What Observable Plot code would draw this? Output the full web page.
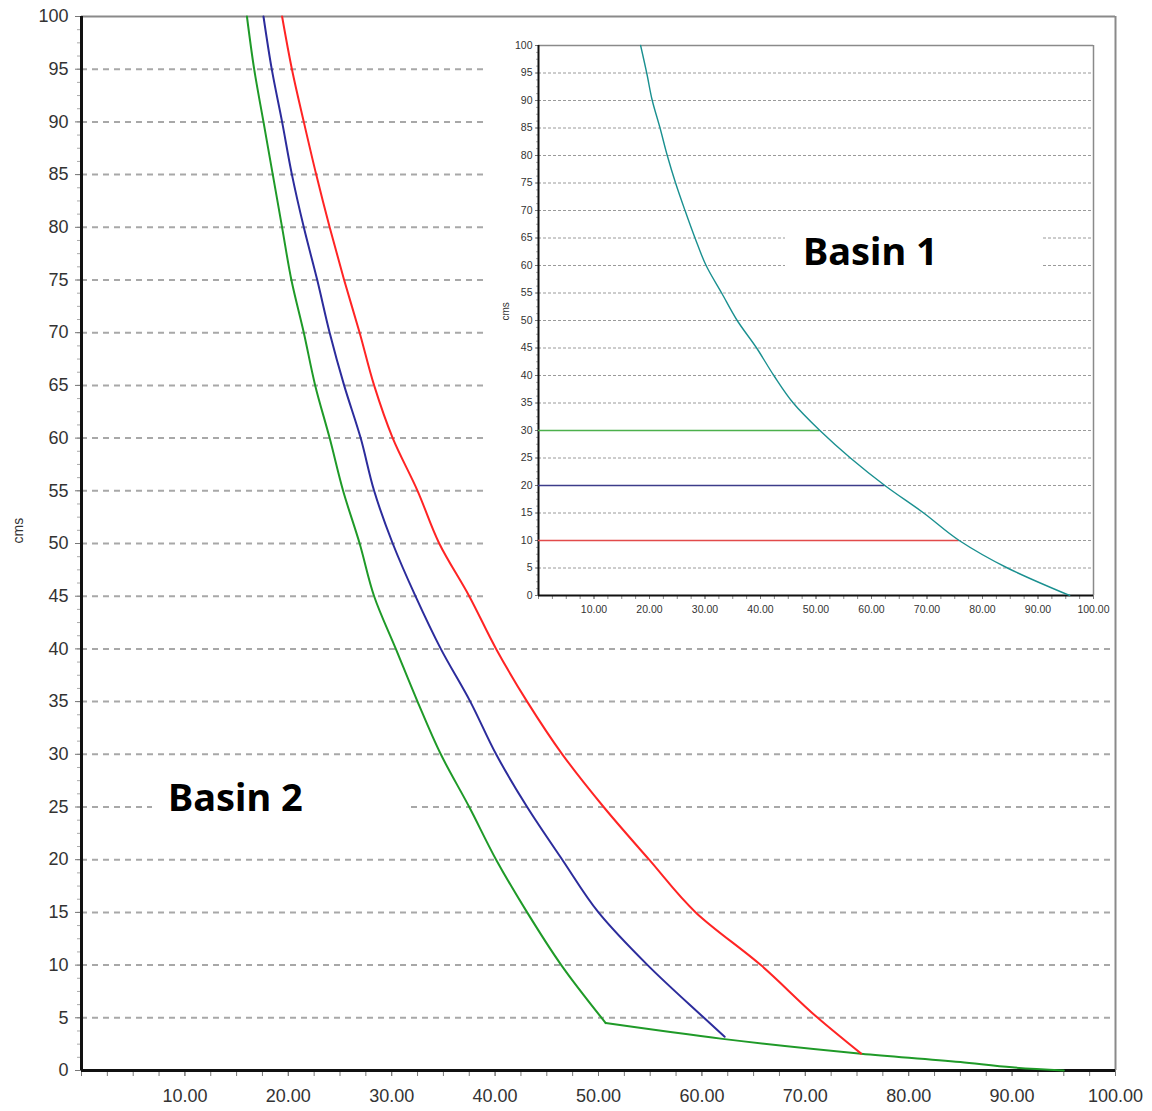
<!DOCTYPE html>
<html>
<head>
<meta charset="utf-8">
<script src="https://cdn.jsdelivr.net/npm/d3@7"></script>
<script src="https://cdn.jsdelivr.net/npm/@observablehq/plot@0.6"></script>
<style>
  body { margin: 0; background: #fff; }
  #wrap { position: relative; width: 1152px; height: 1111px; overflow: hidden; background: #fff; }
  #inset { position: absolute; left: 487px; top: 18px; background: #fff; }
  .box { position: absolute; background: #fff; }
  .lbl { position: absolute; font-family: "Noto Sans", "Open Sans", sans-serif; font-weight: bold; font-size: 38px; line-height: 38px; color: #000; white-space: nowrap; }
</style>
</head>
<body>
<div id="wrap"></div>
<script>
// ---------- tick values ----------
const yMajorTicks = [0, 5, 10, 15, 20, 25, 30, 35, 40, 45, 50, 55, 60, 65, 70, 75, 80, 85, 90, 95, 100];
const gridLevels = [5, 10, 15, 20, 25, 30, 35, 40, 45, 50, 55, 60, 65, 70, 75, 80, 85, 90, 95];
const xMajorTicks = [10, 20, 30, 40, 50, 60, 70, 80, 90, 100];
const xMinorTicks = d3.range(0, 100.01, 2.5);
const yMinorTicks = d3.range(0, 100.01, 1.25);

// ---------- Basin 2 (main chart) : [flow, cms] ----------
const basin2Green = [
  [16.0, 100], [16.7, 95], [17.6, 90], [18.5, 85], [19.4, 80], [20.3, 75], [21.5, 70],
  [22.6, 65], [24.0, 60], [25.3, 55], [26.9, 50], [28.3, 45], [30.4, 40], [32.5, 35],
  [34.75, 30], [37.5, 25], [40.1, 20], [43.1, 15], [46.4, 10], [50.7, 4.5], [62.0, 3.0],
  [75.4, 1.6], [85.0, 0.8], [90.0, 0.3], [95.0, 0]
];
const basin2Blue = [
  [17.6, 100], [18.4, 95], [19.4, 90], [20.35, 85], [21.5, 80], [22.8, 75], [24.0, 70],
  [25.4, 65], [27.0, 60], [28.3, 55], [30.1, 50], [32.3, 45], [34.75, 40], [37.6, 35],
  [40.1, 30], [43.1, 25], [46.5, 20], [50.0, 15], [54.75, 10], [60.2, 5], [62.2, 3.2]
];
const basin2Red = [
  [19.4, 100], [20.35, 95], [21.5, 90], [22.7, 85], [24.0, 80], [25.4, 75], [26.9, 70],
  [28.3, 65], [30.1, 60], [32.5, 55], [34.6, 50], [37.5, 45], [40.1, 40], [43.1, 35],
  [46.5, 30], [50.5, 25], [54.9, 20], [59.4, 15], [65.7, 10], [71.2, 5], [75.4, 1.6]
];
const greenKnee = 4.5;

// ---------- Basin 1 (inset) ----------
const basin1Curve = [
  [18.4, 100], [19.5, 95], [20.5, 90], [21.9, 85], [23.2, 80], [24.7, 75], [26.4, 70],
  [28.2, 65], [30.2, 60], [33.0, 55], [35.8, 50], [39.3, 45], [42.4, 40], [45.9, 35],
  [50.7, 30], [56.2, 25], [62.4, 20], [69.4, 15], [75.8, 10], [84.5, 5], [95.7, 0]
];
const basin1Levels = [
  {level: 30, from: 0, to: 50.7, color: "#4cb04c"},
  {level: 20, from: 0, to: 62.4, color: "#3c3c8a"},
  {level: 10, from: 0, to: 75.8, color: "#e24a4a"}
];

const labelText = {main: "Basin 2", inset: "Basin 1", unit: "cms"};

const colors = {green: "#1f9a28", blue: "#2c2c9c", red: "#ff2424", teal: "#1a9090"};

const fmt = d3.format(".2f");
const wrap = document.getElementById("wrap");
const X = d => d[0], Y = d => d[1];

// ---------- main plot ----------
const main = Plot.plot({
  width: 1152,
  height: 1111,
  marginLeft: 81,
  marginRight: 37,
  marginTop: 16,
  marginBottom: 41,
  style: {fontFamily: "'Liberation Sans', Arial, sans-serif", fontSize: "18px", color: "#333", background: "#fff"},
  x: {domain: [0, 100]},
  y: {domain: [0, 100]},
  marks: [
    Plot.ruleY(gridLevels, {stroke: "#a8a8a8", strokeWidth: 2, strokeDasharray: "6,5"}),
    Plot.axisY({ticks: yMinorTicks, tickSize: 4, tickFormat: () => "", label: null, stroke: "#aaa"}),
    Plot.axisY({ticks: yMajorTicks, tickSize: 6, tickPadding: 7, tickFormat: d => String(d), label: null, fontSize: 18, stroke: "#777", fill: "#333"}),
    Plot.axisX({ticks: xMinorTicks, tickSize: 6, tickFormat: () => "", label: null, stroke: "#777"}),
    Plot.axisX({ticks: xMajorTicks, tickSize: 6, tickPadding: 13, tickFormat: fmt, label: null, fontSize: 18, stroke: "#777", fill: "#333"}),
    Plot.text([labelText.unit], {frameAnchor: "left", dx: -63, rotate: -90, fontSize: 14, fill: "#333"}),
    Plot.ruleY([100], {stroke: "#8a8a8a", strokeWidth: 2}),
    Plot.ruleX([100], {stroke: "#8a8a8a", strokeWidth: 2}),
    Plot.ruleX([0], {stroke: "#111", strokeWidth: 3}),
    Plot.ruleY([0], {stroke: "#111", strokeWidth: 3}),
    Plot.line(basin2Green.filter(d => d[1] >= greenKnee), {x: X, y: Y, stroke: colors.green, strokeWidth: 2, curve: "monotone-y"}),
    Plot.line(basin2Green.filter(d => d[1] <= greenKnee), {x: X, y: Y, stroke: colors.green, strokeWidth: 2, curve: "monotone-x"}),
    Plot.line(basin2Blue, {x: X, y: Y, stroke: colors.blue, strokeWidth: 2, curve: "monotone-y"}),
    Plot.line(basin2Red, {x: X, y: Y, stroke: colors.red, strokeWidth: 2, curve: "monotone-y"})
  ]
});
wrap.appendChild(main);

// label box for Basin 2
const box2 = document.createElement("div");
box2.className = "box";
Object.assign(box2.style, {left: "152px", top: "776px", width: "256px", height: "58px"});
wrap.appendChild(box2);
const lbl2 = document.createElement("div");
lbl2.className = "lbl";
lbl2.textContent = labelText.main;
Object.assign(lbl2.style, {left: "168px", top: "777px"});
wrap.appendChild(lbl2);

// ---------- inset plot ----------
const inset = Plot.plot({
  width: 626,
  height: 607,
  marginLeft: 51,
  marginRight: 20,
  marginTop: 27,
  marginBottom: 30,
  style: {fontFamily: "'Liberation Sans', Arial, sans-serif", fontSize: "11px", color: "#333", background: "#fff"},
  x: {domain: [0, 100]},
  y: {domain: [0, 100]},
  marks: [
    Plot.ruleY(gridLevels, {stroke: "#9a9a9a", strokeWidth: 1, strokeDasharray: "3,2"}),
    Plot.axisY({ticks: yMinorTicks, tickSize: 2, tickFormat: () => "", label: null, stroke: "#aaa"}),
    Plot.axisY({ticks: yMajorTicks, tickSize: 3, tickPadding: 3, tickFormat: d => String(d), label: null, fontSize: 10.5, stroke: "#777", fill: "#333"}),
    Plot.axisX({ticks: xMinorTicks, tickSize: 4, tickFormat: () => "", label: null, stroke: "#888"}),
    Plot.axisX({ticks: xMajorTicks, tickSize: 4, tickPadding: 6, tickFormat: fmt, label: null, fontSize: 10.5, stroke: "#777", fill: "#333"}),
    Plot.text([labelText.unit], {frameAnchor: "left", dx: -33, rotate: -90, fontSize: 10, fill: "#333"}),
    Plot.ruleY([100], {stroke: "#8a8a8a", strokeWidth: 1.5}),
    Plot.ruleX([100], {stroke: "#8a8a8a", strokeWidth: 1.5}),
    Plot.ruleX([0], {stroke: "#111", strokeWidth: 2}),
    Plot.ruleY([0], {stroke: "#111", strokeWidth: 2}),
    Plot.ruleY(basin1Levels, {y: "level", x1: "from", x2: "to", stroke: "color", strokeWidth: 1.5}),
    Plot.line(basin1Curve, {x: X, y: Y, stroke: colors.teal, strokeWidth: 1.4, curve: "monotone-y"})
  ]
});
const insetHolder = document.createElement("div");
insetHolder.id = "inset";
insetHolder.appendChild(inset);
wrap.appendChild(insetHolder);

// label box for Basin 1
const box1 = document.createElement("div");
box1.className = "box";
Object.assign(box1.style, {left: "785px", top: "224px", width: "258px", height: "56px"});
wrap.appendChild(box1);
const lbl1 = document.createElement("div");
lbl1.className = "lbl";
lbl1.textContent = labelText.inset;
Object.assign(lbl1.style, {left: "803px", top: "231px"});
wrap.appendChild(lbl1);
</script>
</body>
</html>
